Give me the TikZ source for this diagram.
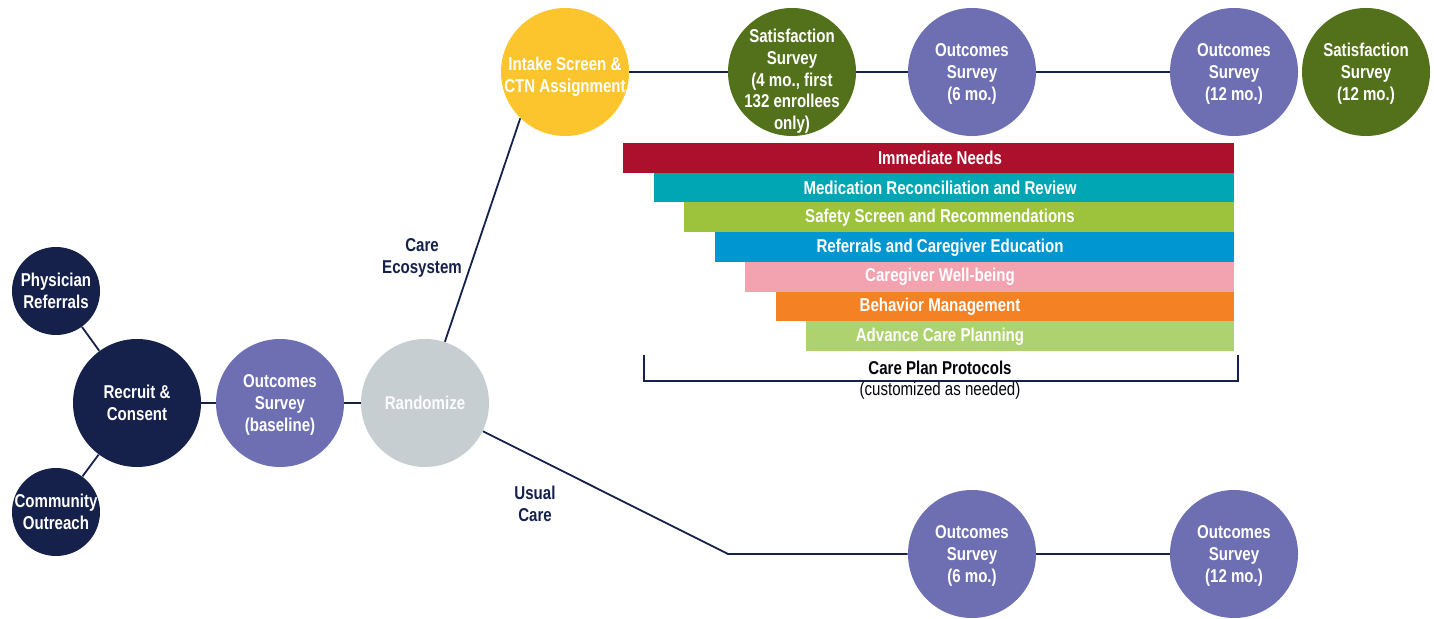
\documentclass[tikz,border=0pt]{standalone}
\usepackage{fontspec}
\setmainfont{Liberation Sans}[FakeStretch=0.81]
\usetikzlibrary{positioning, calc}
\definecolor{ceNavy}{HTML}{15214A}
\definecolor{ceLavender}{HTML}{6E6FB2}
\definecolor{ceGray}{HTML}{C7CED2}
\definecolor{ceYellow}{HTML}{FCC42D}
\definecolor{ceOlive}{HTML}{53711B}
\definecolor{ceCrimson}{HTML}{AC102C}
\definecolor{ceTeal}{HTML}{00A6B4}
\definecolor{ceLime}{HTML}{9DC23C}
\definecolor{ceBlue}{HTML}{0096D1}
\definecolor{cePink}{HTML}{F3A2B0}
\definecolor{ceOrange}{HTML}{F58125}
\definecolor{ceLeaf}{HTML}{AED26F}
\newcommand{\diagfont}{\fontsize{9.3pt}{10.8pt}\selectfont\bfseries}
\newcommand{\lift}[1]{\rule{0pt}{#1}}
\tikzset{
    stage/.style={circle, minimum size=64pt, inner sep=-14pt, align=center, text=white, font=\diagfont},
    source/.style={stage, fill=ceNavy, minimum size=44pt},
    recruit/.style={stage, fill=ceNavy},
    outc/.style={stage, fill=ceLavender},
    satis/.style={stage, fill=ceOlive},
    link/.style={draw=ceNavy, line width=0.9pt},
    branch/.style={text=ceNavy, font=\diagfont, align=center},
    bartext/.style={text=white, font=\diagfont}
}

\begin{document}
\begin{tikzpicture}[x=0.5pt, y=-0.5pt]
        \useasboundingbox (0,0) rectangle (1434,619);

        % Enrolment
        \node[source] (phys) at (56,291) {Physician\\Referrals};
        \node[source] (comm) at (56,512) {Community\\Outreach};
        \node[recruit] (recruit) at (137,403) {Recruit \&\\Consent};
        \node[outc] (base) at (280,403) {\lift{8.5pt}Outcomes\\Survey\\(baseline)};
        \node[stage, fill=ceGray, text=white!95!ceGray] (rand) at (425,403) {Randomize};

        \draw[link] (phys) -- (recruit);
        \draw[link] (comm) -- (recruit);
        \draw[link] (recruit) -- (base);
        \draw[link] (base) -- (rand);

        % Care Ecosystem arm
        \node[stage, fill=ceYellow] (intake) at (565,72) {\lift{11.5pt}Intake Screen \&\\CTN Assignment};
        \node[satis] (sat4) at (792,72) {\lift{16pt}Satisfaction\\Survey\\(4 mo., first\\132 enrollees\\only)};
        \node[outc] (out6) at (972,72) {\lift{8.5pt}Outcomes\\Survey\\(6 mo.)};
        \node[outc] (out12) at (1234,72) {\lift{8.5pt}Outcomes\\Survey\\(12 mo.)};
        \node[satis] (sat12) at (1366,72) {\lift{8.5pt}Satisfaction\\Survey\\(12 mo.)};

        \draw[link] (rand.72) -- (intake.226);
        \draw[link] (intake) -- (sat4);
        \draw[link] (sat4) -- (out6);
        \draw[link] (out6) -- (out12);
        \node[branch] (lblce) at (422,258) {Care\\Ecosystem};

        % Protocol bars
        \foreach \i/\col/\txt in {0/ceCrimson/Immediate Needs,
                                  1/ceTeal/Medication Reconciliation and Review,
                                  2/ceLime/Safety Screen and Recommendations,
                                  3/ceBlue/Referrals and Caregiver Education,
                                  4/cePink/Caregiver Well-being,
                                  5/ceOrange/Behavior Management,
                                  6/ceLeaf/Advance Care Planning}{
            \fill[\col] (623+30.5*\i,143+29.75*\i) rectangle (1234,172.75+29.75*\i);
            \node[bartext] (bar\i) at (940,158+29.75*\i) {\txt};
        }
        \draw[link] (644,355) -- (644,381) -- (1238,381) -- (1238,355);
        \node[font=\diagfont, text=black!85!ceNavy] (plan) at (940,368) {Care Plan Protocols};
        \node[font=\fontsize{9.3pt}{10.8pt}\selectfont, text=black!85!ceNavy] (plannote) at (940,391) {(customized as needed)};

        % Usual Care arm
        \node[outc] (uc6) at (972,554) {\lift{8.5pt}Outcomes\\Survey\\(6 mo.)};
        \node[outc] (uc12) at (1234,554) {\lift{8.5pt}Outcomes\\Survey\\(12 mo.)};
        \coordinate (ucbend) at (728,554);
        \draw[link] (rand.-26.5) -- (ucbend) -- (uc6);
        \draw[link] (uc6) -- (uc12);
        \node[branch] (lbluc) at (535,504) {Usual\\Care};
    \end{tikzpicture}
\end{document}
